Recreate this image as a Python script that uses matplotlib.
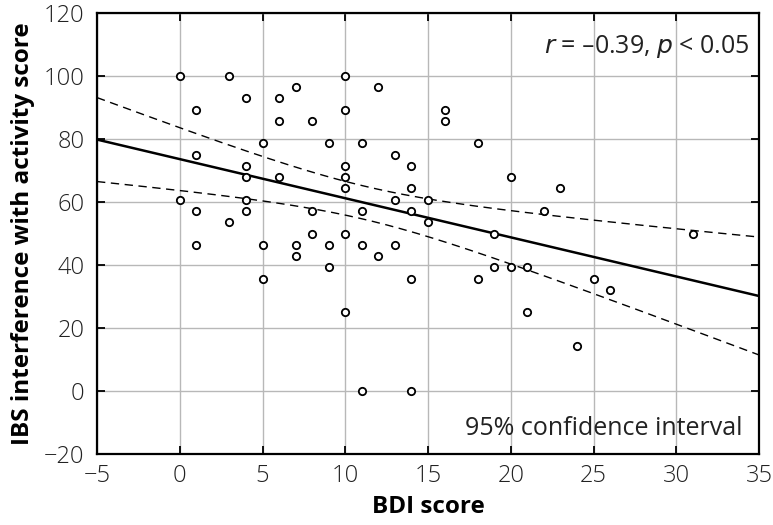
import numpy as np
import matplotlib
matplotlib.use("Agg")
import matplotlib.pyplot as plt

plt.rcParams['font.family'] = ['Open Sans', 'DejaVu Sans']

# BDI score (x) and IBS interference with activity score (y)
bdi = [0, 0,
       1, 1, 1, 1,
       3, 3,
       4, 4, 4, 4, 4,
       5, 5, 5,
       6, 6, 6,
       7, 7, 7,
       8, 8, 8,
       9, 9, 9,
       10, 10, 10, 10, 10, 10, 10,
       11, 11, 11, 11,
       12, 12,
       13, 13, 13,
       14, 14, 14, 14, 14,
       15, 15,
       16, 16,
       18, 18,
       19, 19,
       20, 20,
       21, 21,
       22, 23, 24, 25, 26, 31]
ibs = [100, 60.7,
       89.3, 75.0, 57.1, 46.4,
       100, 53.6,
       92.9, 71.4, 67.9, 60.7, 57.1,
       78.6, 46.4, 35.7,
       92.9, 85.7, 67.9,
       96.4, 46.4, 42.9,
       85.7, 57.1, 50.0,
       78.6, 46.4, 39.3,
       100, 89.3, 71.4, 67.9, 64.3, 50.0, 25.0,
       78.6, 57.1, 46.4, 0,
       96.4, 42.9,
       75.0, 60.7, 46.4,
       71.4, 64.3, 57.1, 35.7, 0,
       60.7, 53.6,
       89.3, 85.7,
       78.6, 35.7,
       50.0, 39.3,
       67.9, 39.3,
       39.3, 25.0,
       57.1, 64.3, 14.3, 35.7, 32.1, 50.0]

x = np.array(bdi, dtype=float)
y = np.array(ibs, dtype=float)

# linear fit and 95% confidence band of the mean
n = len(x)
b, a = np.polyfit(x, y, 1)
resid = y - (a + b * x)
s = np.sqrt(np.sum(resid ** 2) / (n - 2))
xs = np.linspace(-5, 35, 200)
t = 1.995
se = s * np.sqrt(1 / n + (xs - x.mean()) ** 2 / np.sum((x - x.mean()) ** 2))
fit = a + b * xs

fig = plt.figure(figsize=(7.73, 5.25), dpi=100)
ax = fig.add_axes([0.1255, 0.1352, 0.8565, 0.84])

ax.grid(True, color='#b8b8b8', linewidth=1.0, zorder=0)
ax.plot(xs, fit, color='black', linewidth=1.8, zorder=3)
ax.plot(xs, fit + t * se, color='black', linestyle=(0, (6, 4)), linewidth=1.0, zorder=3)
ax.plot(xs, fit - t * se, color='black', linestyle=(0, (6, 4)), linewidth=1.0, zorder=3)
ax.scatter(x, y, s=28, facecolors='white', edgecolors='black', linewidths=1.3, zorder=4)

ax.set_xlim(-5, 35)
ax.set_ylim(-20, 120)
ax.set_xticks(range(-5, 36, 5))
ax.set_yticks(range(-20, 121, 20))
ax.tick_params(direction='in', length=6, width=1.3, top=True, right=True,
               labelsize=17, colors='black', pad=7)
ax.tick_params(axis='x', labelcolor='#222222')
ax.tick_params(axis='y', labelcolor='#222222', pad=9)
for lab in ax.get_xticklabels() + ax.get_yticklabels():
    lab.set_fontweight('light')
for sp in ax.spines.values():
    sp.set_linewidth(1.6)

ax.set_xlabel('BDI score', fontsize=17.5, fontweight='bold', labelpad=5)
ax.set_ylabel('IBS interference with activity score', fontsize=17.5, fontweight='bold', labelpad=6)

ax.text(0.985, 0.955, r'$\it{r}$ = –0.39, $\it{p}$ < 0.05', transform=ax.transAxes,
        ha='right', va='top', fontsize=18, color='#222222')
ax.text(0.975, 0.03, '95% confidence interval', transform=ax.transAxes,
        ha='right', va='bottom', fontsize=18, color='#222222')

fig.savefig('out.png', dpi=100)
